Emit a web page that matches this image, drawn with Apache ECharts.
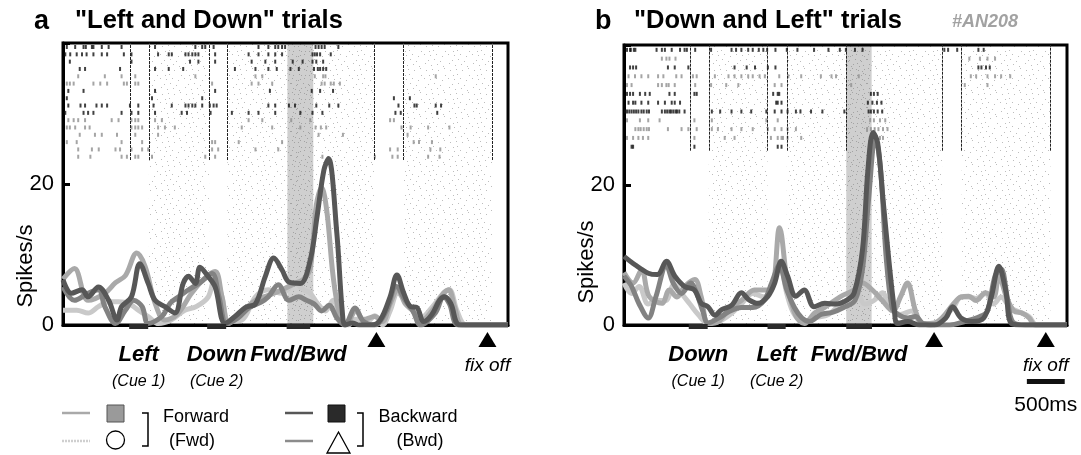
<!DOCTYPE html>
<html>
<head>
<meta charset="utf-8">
<script src="https://cdn.jsdelivr.net/npm/echarts@6/dist/echarts.min.js"></script>
<style>
html,body{margin:0;padding:0;background:#fff;}
#chart{width:1081px;height:455px;}
</style>
</head>
<body>
<div id="chart"></div>
<script>
// time in ms from the left edge of each panel, rate in spikes/s
var timeMax = 5850;
var rateMax = 40;

// ---- panel a : "Left and Down" trials ----
var fwdSqA = [[0,6.5],[150,8],[330,3.5],[550,4.5],[690,6],[820,7],[970,10.2],[1080,8.3],[1210,3.1],[1340,0.7],[1500,1.5],[1690,4.5],[1850,6.5],[2000,7.6],[2090,4],[2180,0.2],[2350,1.8],[2530,3.5],[2700,4.2],[2880,5],[3050,5.9],[3160,6.5],[3250,8],[3330,17],[3400,19.5],[3470,16],[3550,7],[3640,1.2],[3720,0],[3850,2],[3950,0.8],[4100,1.2],[4200,0.5],[4300,3],[4400,5],[4500,3],[4600,2],[4700,0.5],[4850,2],[5000,4.5],[5070,5],[5150,2.5],[5250,0],[5850,0]];
var fwdCircA = [[0,2.1],[180,2.1],[330,1.7],[465,2.6],[600,3.3],[730,3.3],[860,3.1],[990,2.1],[1120,1.2],[1255,0.2],[1420,0.7],[1600,2.1],[1750,2.6],[1910,4],[2000,6.9],[2090,4],[2180,0.5],[2350,0.7],[2530,4],[2700,5],[2880,4.5],[3050,5.9],[3160,5],[3250,4.5],[3350,3],[3450,2],[3550,3.5],[3650,1],[3750,0],[3850,0.8],[4000,0.5],[4100,1.3],[4200,0],[4300,2],[4400,4.5],[4500,3.5],[4600,2],[4700,1],[4850,2.5],[5000,4.5],[5080,5],[5180,2],[5300,0],[5850,0]];
var bwdSqA = [[0,6.4],[110,4.5],[250,5],[330,4],[465,5.4],[600,3.5],[710,0.7],[770,2.6],[900,4],[1010,8.7],[1120,5.9],[1210,3.5],[1340,2.6],[1470,1.7],[1580,5.9],[1650,6.9],[1740,5.9],[1800,8.2],[1900,7],[2000,5.4],[2130,0.2],[2260,1.2],[2400,2.5],[2530,3],[2660,6.9],[2770,9.5],[2880,7.8],[2970,6.1],[3120,5.9],[3250,9.2],[3340,15.4],[3430,22],[3490,23.6],[3600,13],[3670,2.1],[3710,0],[3800,0.3],[3900,0],[4050,0],[4170,0.7],[4300,4],[4390,7.1],[4480,4.5],[4570,2.6],[4650,2.5],[4740,0.5],[4850,1.5],[4950,3.5],[5020,4],[5100,3],[5220,0],[5850,0]];
var bwdTriA = [[0,5.4],[150,3.5],[330,4.5],[465,5],[550,2.6],[690,0.2],[820,2.1],[930,3.5],[1040,2.6],[1120,0.2],[1300,1.2],[1410,3.1],[1520,4],[1650,5],[1800,6],[1960,7.3],[2050,4],[2150,0.2],[2300,1],[2450,2.5],[2600,3.2],[2700,4],[2830,5.7],[2970,3.5],[3100,4],[3200,3.5],[3300,3],[3400,2],[3500,2.8],[3600,1],[3700,0],[3840,2.4],[3950,0.5],[4100,0],[4250,2],[4380,5.5],[4500,3.5],[4600,2],[4700,0],[4900,1.8],[5000,4],[5080,3],[5200,0],[5850,0]];

// raster rows, top to bottom: condition + spike times
var rowsA = [
	['bwd',[50,160,270,300,380,400,510,600,770,1210,1740,1830,1870,1980,2570,2700,2790,2830,2880,2920,3320,3360,3400,3440,3620]],
	['bwd',[30,95,180,250,310,400,510,580,800,900,1250,1390,1430,1610,1650,1700,1740,1780,2000,2440,2570,2700,2790,2880,3280,3310,3340,3380,3520]],
	['bwd',[90,900,1670,1780,2000,2480,2660,2790,3020,3150,3280,3330,3420]],
	['bwd',[220,290,750,1210,1390,1580,2260,2530,2700,2810,2990,3100,3300,3350,3380,3420,3460]],
	['fwd',[200,550,770,950,1740,2530,2620,3310,3420,3450,4900]],
	['fwd',[50,90,140,400,490,580,800,840,950,990,1960,2480,2570,2750,3400,3440,3520,3560,3640]],
	['bwd',[70,270,1210,2000,2720,3270,3380,3550]],
	['bwd',[50,1170,1830,4350,4560]],
	['bwd',[70,230,290,440,510,580,880,990,1190,1430,1610,1650,1700,1740,1830,1930,1980,2020,2700,2790,2970,3050,3330,3500,3620,4410,4620,4650,4900,4970]],
	['bwd',[30,270,330,400,770,900,990,1210,1560,1630,1940,2220,2440,2570,2790,3120,3280,3410,4370,4440,4920]],
	['fwd',[70,140,200,290,640,730,900,950,990,1210,1300,2440,2620,3000,3250,4300,4350]],
	['fwd',[50,90,160,290,350,900,950,990,1040,1250,1340,1470,2350,2750,3120,3320,3390,3460,4450,4570,4800,5080]],
	['fwd',[220,420,510,710,950,1250,3360,3680,4530]],
	['fwd',[50,180,770,1040,1960,2000,2310,2880,4610,4680,4850]],
	['fwd',[200,380,470,690,750,900,1040,1120,1960,2040,2530,2830,4300,4400,4830,4960]],
	['fwd',[200,360,770,840,950,990,1170,1870,2000,3410,4100,4330,4400,4800,4950]]
];
var rasterBottomA = 23.4;
var rasterLinesA = [880,1130,1920,2160,4090,4470,5640];
var stippleA = [[1130,1920],[2160,2950],[3290,4090],[4470,5640]];
var bandA = [2950,3290];
var cuesA = [[870,1120],[1895,2145],[2940,3250]];
var cueNamesA = ['Left','Down','Fwd/Bwd'];
var cueSubsA = ['(Cue 1)','(Cue 2)',''];
var eventsA = [4120,5580];
var eventNamesA = ['','fix off'];

// ---- panel b : "Down and Left" trials ----
var fwdSqB = [[0,7.5],[120,6],[233,7.9],[330,4.1],[500,3.1],[600,5],[700,4],[800,5.5],[935,6.5],[1020,4],[1110,0.2],[1250,0.5],[1400,2.5],[1550,3.5],[1720,5],[1810,5],[1940,5],[2053,13.9],[2163,5.5],[2273,1.2],[2383,0.2],[2514,1.7],[2650,2.5],[2865,4.1],[3040,5],[3150,6],[3280,5],[3410,3.5],[3550,2],[3650,4],[3742,6],[3850,2],[3940,0.2],[4100,0.3],[4200,1],[4350,3],[4450,4],[4553,4.1],[4650,3.5],[4773,4.6],[4880,4],[4950,7],[5050,4],[5150,2],[5255,1.7],[5350,1],[5430,0],[5850,0]];
var fwdCircB = [[0,6],[100,4.5],[200,5.5],[320,3],[430,3.5],[550,3.5],[660,5.8],[760,4.5],[870,3],[980,1.5],[1100,0.3],[1250,0.5],[1400,1.5],[1550,3],[1700,4.5],[1850,4],[1950,5.5],[2053,9],[2150,4.5],[2250,1.5],[2380,0.5],[2520,1],[2700,1.5],[2860,3],[3000,4],[3060,5],[3180,3],[3300,3.5],[3413,4.6],[3500,2.6],[3650,1.5],[3800,2],[3900,0.5],[4050,0],[4200,1],[4350,2.5],[4450,4],[4553,4],[4650,3.8],[4773,4.5],[4880,3],[4980,4],[5100,2.5],[5255,1.7],[5350,1.2],[5450,0],[5850,0]];
var bwdSqB = [[0,9.8],[145,8.6],[320,7.4],[440,7.2],[560,9.1],[670,7],[800,5.5],[930,5],[1020,3.1],[1110,2.6],[1200,1.4],[1290,2.2],[1420,2.8],[1550,4.6],[1650,3.6],[1770,3.1],[1900,4.1],[1990,6],[2076,9.1],[2160,7],[2270,4.1],[2380,5],[2510,2.6],[2650,3.1],[2800,3],[2950,3.6],[3040,4.6],[3150,10.8],[3220,22],[3290,27.5],[3350,26],[3420,18],[3500,9],[3570,2.2],[3610,0.2],[3750,0.5],[3900,0],[4100,0],[4250,1],[4340,2.6],[4450,1],[4600,0.5],[4750,1],[4850,4],[4950,8.4],[5040,5],[5120,0.2],[5300,0],[5850,0]];
var bwdTriB = [[0,7],[100,5.5],[200,3],[320,1],[420,4],[560,8.5],[650,6],[760,4.5],[880,6],[960,4.5],[1040,2],[1110,0.3],[1250,1],[1400,2],[1550,2.5],[1700,2.5],[1850,3.5],[1950,6],[2050,8.5],[2150,5],[2250,2.5],[2350,1],[2450,0.5],[2600,1.5],[2750,1.8],[2900,2.5],[3050,3.5],[3150,8],[3230,18],[3320,27],[3390,22],[3460,10],[3540,2.5],[3620,1.5],[3750,1],[3850,1.2],[3950,0.2],[4100,0],[4300,0],[4500,0.5],[4700,1.2],[4800,2],[4900,7],[4980,8],[5060,4],[5130,0.5],[5300,0],[5850,0]];

var rowsB = [
	['bwd',[40,80,90,130,150,430,500,540,630,740,800,830,940,1150,1420,1480,1550,1640,1700,1780,1840,1890,2000,2150,2290,2510,2700,2850,2930,3050,3150,4230,4280,4400,4680,4750]],
	['fwd',[500,560,600,680,4560,4700,4800,4900]],
	['bwd',[80,120,160,580,670,850,1460,1620,1730,1900,2000,4680,4720,4780,4830]],
	['fwd',[60,145,230,320,450,520,690,760,910,960,1200,1380,1460,1550,1640,1700,1790,1860,2050,2170,2340,2600,2740,2800,3100,4580,4650,4800,4900,4980,5100]],
	['fwd',[40,100,450,500,560,590,670,940,1150,1350,1510,1990,2080,3000,4500,4800]],
	['bwd',[40,80,120,210,280,340,600,670,930,960,1970,2030,2050,3260,3300,3350]],
	['bwd',[60,120,150,230,320,450,540,630,670,740,2010,2030,2080,3220,3280,3340,3400]],
	['bwd',[15,40,70,100,130,160,190,230,260,300,330,500,540,570,600,620,650,680,700,730,800,1160,1270,1420,1550,1680,1880,1990,2080,2160,2270,2330,2470,2620,2910,3230,3260,3300,3350,3410]],
	['fwd',[40,210,320,470,930,1160,1880,2030,3250,3300,3380,3450]],
	['fwd',[150,190,220,260,300,330,580,760,850,960,1160,1240,1420,1550,1700,1900,1990,2080,2160,2270,3210,3260,3310,3360,3420,3480]],
	['fwd',[40,120,190,250,320,930,1330,1460,1940,2030,2080,2100,2160,2340,3330,3380,3420]],
	['bwd',[100,120,930,2030,2080]]
];
var rasterBottomB = 24.9;
var rasterLinesB = [880,1120,1895,2150,2935,4200,4460,5630];
var stippleB = [[1120,1895],[2150,2935],[3270,4200],[4460,5630]];
var bandB = [2935,3270];
var cuesB = [[855,1105],[1895,2135],[2935,3275]];
var cueNamesB = ['Down','Left','Fwd/Bwd'];
var cueSubsB = ['(Cue 1)','(Cue 2)',''];
var eventsB = [4095,5570];
var eventNamesB = ['','fix off'];
var scaleBarB = [5320,5820];

var FONT = '"Liberation Sans", Arial, Helvetica, sans-serif';

// stipple textures for the shaded periods
var dotList = [[1,2],[13,3],[4,6],[16,6],[10,8],[22,7],[8,13],[20,12],[2,11],[5,16],[17,15],[11,18],[23,17],[0,21],[12,20],[18,22],[6,22],[21,3]];
function makePattern(bg, dotColor, extra){
	var c = document.createElement('canvas');
	c.width = 24; c.height = 24;
	var g = c.getContext('2d');
	if(bg){ g.fillStyle = bg; g.fillRect(0, 0, 24, 24); }
	g.fillStyle = dotColor;
	for(var i = 0; i < dotList.length; i++){
		g.fillRect(dotList[i][0], dotList[i][1], 1, 1);
		if(extra){ g.fillRect((dotList[i][0] + 11) % 24, (dotList[i][1] + 5) % 24, 1, 1); }
	}
	return c;
}
var lightStipple = {image: makePattern(null, '#bdbdbd', false), repeat: 'repeat'};
var darkStipple = {image: makePattern('#cfcfcf', '#a3a3a3', true), repeat: 'repeat'};

var colFwdSq = '#a9a9a9', colFwdCirc = '#c9c9c9', colBwdSq = '#575757', colBwdTri = '#828282';

function psth(gi, data, color){
	return {
		type: 'line', xAxisIndex: gi, yAxisIndex: gi, data: data,
		smooth: 0.35, showSymbol: false, silent: true, z: 4,
		lineStyle: {color: color, width: 5}
	};
}

function rasterSeries(gi, rows, cond, bottom, color){
	var data = [];
	var step = (rateMax - bottom) / rows.length;
	for(var i = 0; i < rows.length; i++){
		if(rows[i][0] != cond) continue;
		var y = rateMax - (i + 0.55) * step;
		for(var j = 0; j < rows[i][1].length; j++){
			data.push([rows[i][1][j], y]);
		}
	}
	return {
		type: 'scatter', xAxisIndex: gi, yAxisIndex: gi, data: data,
		symbol: 'rect', symbolSize: [2, 4], silent: true, z: 3,
		itemStyle: {color: color}
	};
}

// shaded periods + trial event lines in the raster
function backdrop(gi, stipple, band, lines, bottom){
	var areas = [];
	for(var i = 0; i < stipple.length; i++){
		areas.push([{xAxis: stipple[i][0], itemStyle: {color: lightStipple, opacity: 1}}, {xAxis: stipple[i][1]}]);
	}
	areas.push([{xAxis: band[0], itemStyle: {color: darkStipple, opacity: 1}}, {xAxis: band[1]}]);
	var mlines = [];
	for(var k = 0; k < lines.length; k++){
		mlines.push([{coord: [lines[k], bottom]}, {coord: [lines[k], rateMax]}]);
	}
	return {
		type: 'line', xAxisIndex: gi, yAxisIndex: gi, data: [[0, 0]],
		showSymbol: false, silent: true, z: 1, lineStyle: {opacity: 0},
		markArea: {silent: true, data: areas},
		markLine: {silent: true, symbol: ['none', 'none'], label: {show: false},
			lineStyle: {color: '#222', width: 1, type: [3, 1]}, data: mlines}
	};
}

// cue bars and labels under the time axis
function cueSeries(gi, cues, names, subs){
	var data = [];
	for(var i = 0; i < cues.length; i++) data.push([cues[i][0], cues[i][1], i]);
	return {
		type: 'custom', xAxisIndex: gi, yAxisIndex: gi, data: data, clip: false, silent: true, z: 6,
		renderItem: function(params, api){
			var i = api.value(2);
			var p0 = api.coord([api.value(0), 0]);
			var p1 = api.coord([api.value(1), 0]);
			var cx = (p0[0] + p1[0]) / 2, y0 = p0[1];
			return {type: 'group', children: [
				{type: 'rect', shape: {x: p0[0], y: y0 - 1, width: p1[0] - p0[0], height: 5}, style: {fill: '#2b2b2b'}},
				{type: 'text', style: {text: names[i], x: cx, y: y0 + 30, align: 'center', verticalAlign: 'middle',
					fontFamily: FONT, fontSize: 22, fontWeight: 'bold', fontStyle: 'italic', fill: '#000'}},
				{type: 'text', style: {text: subs[i], x: cx, y: y0 + 57, align: 'center', verticalAlign: 'middle',
					fontFamily: FONT, fontSize: 16, fontStyle: 'italic', fill: '#000'}}
			]};
		}
	};
}

function eventSeries(gi, events, names){
	var data = [];
	for(var i = 0; i < events.length; i++) data.push([events[i], i]);
	return {
		type: 'custom', xAxisIndex: gi, yAxisIndex: gi, data: data, clip: false, silent: true, z: 6,
		renderItem: function(params, api){
			var i = api.value(1);
			var p = api.coord([api.value(0), 0]);
			var x = p[0], y0 = p[1];
			return {type: 'group', children: [
				{type: 'polygon', shape: {points: [[x - 9, y0 + 22], [x + 9, y0 + 22], [x, y0 + 7]]}, style: {fill: '#000'}},
				{type: 'text', style: {text: names[i], x: x, y: y0 + 41, align: 'center', verticalAlign: 'middle',
					fontFamily: FONT, fontSize: 19, fontStyle: 'italic', fill: '#000'}}
			]};
		}
	};
}

function scaleSeries(gi, bar){
	return {
		type: 'custom', xAxisIndex: gi, yAxisIndex: gi, data: [[bar[0], bar[1]]], clip: false, silent: true, z: 6,
		renderItem: function(params, api){
			var p0 = api.coord([api.value(0), 0]);
			var p1 = api.coord([api.value(1), 0]);
			return {type: 'group', children: [
				{type: 'rect', shape: {x: p0[0], y: p0[1] + 54, width: p1[0] - p0[0], height: 5}, style: {fill: '#111'}},
				{type: 'text', style: {text: (api.value(1) - api.value(0)) + 'ms', x: (p0[0] + p1[0]) / 2, y: p0[1] + 80,
					align: 'center', verticalAlign: 'middle', fontFamily: FONT, fontSize: 21, fill: '#000'}}
			]};
		}
	};
}

function xAx(gi){
	return {
		type: 'value', gridIndex: gi, min: 0, max: timeMax, z: 2,
		axisLine: {show: true, onZero: false, lineStyle: {color: '#000', width: 3}},
		axisTick: {show: false}, axisLabel: {show: false}, splitLine: {show: false}
	};
}
function yAx(gi){
	return {
		type: 'value', gridIndex: gi, min: 0, max: rateMax, interval: 20, z: 2,
		axisLine: {show: true, lineStyle: {color: '#000', width: 3}},
		axisTick: {show: true, inside: true, length: 7, lineStyle: {color: '#000', width: 3}},
		axisLabel: {fontFamily: FONT, fontSize: 22, color: '#000', margin: 9,
			formatter: function(v){ return v == rateMax ? '' : v; }},
		splitLine: {show: false}
	};
}

function txt(x, y, s, size, extra){
	var st = {text: s, x: x, y: y, fontFamily: FONT, fontSize: size, fill: '#000', verticalAlign: 'middle', align: 'left'};
	for(var k in extra) st[k] = extra[k];
	return {type: 'text', style: st, z: 10};
}

// legend at the bottom left
var legendGraphics = [
	{type: 'line', shape: {x1: 62, y1: 413, x2: 90, y2: 413}, style: {stroke: colFwdSq, lineWidth: 2.5}},
	{type: 'line', shape: {x1: 62, y1: 441, x2: 90, y2: 441}, style: {stroke: '#cfcfcf', lineWidth: 2.5, lineDash: [2, 1]}},
	{type: 'rect', shape: {x: 107, y: 405, width: 17, height: 17}, style: {fill: '#9a9a9a', stroke: '#555', lineWidth: 1}},
	{type: 'circle', shape: {cx: 115.5, cy: 440, r: 9}, style: {fill: 'none', stroke: '#000', lineWidth: 1.3}},
	{type: 'polyline', shape: {points: [[142, 413], [148, 413], [148, 446], [142, 446]]}, style: {stroke: '#000', lineWidth: 1.5, fill: 'none'}},
	{type: 'line', shape: {x1: 285, y1: 413, x2: 313, y2: 413}, style: {stroke: colBwdSq, lineWidth: 2.5}},
	{type: 'line', shape: {x1: 285, y1: 441, x2: 313, y2: 441}, style: {stroke: '#8c8c8c', lineWidth: 2.5}},
	{type: 'rect', shape: {x: 328, y: 405, width: 17, height: 17}, style: {fill: '#2a2a2a', stroke: '#111', lineWidth: 1}},
	{type: 'polygon', shape: {points: [[327, 453], [350, 453], [338.5, 432]]}, style: {fill: 'none', stroke: '#000', lineWidth: 1.3}},
	{type: 'polyline', shape: {points: [[357, 413], [363, 413], [363, 446], [357, 446]]}, style: {stroke: '#000', lineWidth: 1.5, fill: 'none'}},
	txt(196, 417, 'Forward', 18, {align: 'center'}),
	txt(192, 441, '(Fwd)', 18, {align: 'center'}),
	txt(418, 417, 'Backward', 18, {align: 'center'}),
	txt(420, 441, '(Bwd)', 18, {align: 'center'})
];

var titleGraphics = [
	txt(34, 22, 'a', 27, {fontWeight: 'bold'}),
	txt(75, 21, '"Left and Down" trials', 25.5, {fontWeight: 'bold'}),
	txt(595, 22, 'b', 27, {fontWeight: 'bold'}),
	txt(634, 21, '"Down and Left" trials', 25.5, {fontWeight: 'bold'}),
	txt(952, 22, '#AN208', 18, {fontWeight: 'bold', fontStyle: 'italic', fill: '#a2a2a2'}),
	{type: 'text', x: 26, y: 266, rotation: Math.PI / 2, z: 10,
		style: {text: 'Spikes/s', fontFamily: FONT, fontSize: 22, fill: '#000', align: 'center', verticalAlign: 'middle'}},
	{type: 'text', x: 587, y: 262, rotation: Math.PI / 2, z: 10,
		style: {text: 'Spikes/s', fontFamily: FONT, fontSize: 22, fill: '#000', align: 'center', verticalAlign: 'middle'}}
];

var chart = echarts.init(document.getElementById('chart'), null, {renderer: 'canvas'});
var option = {
	animation: false,
	backgroundColor: '#fff',
	grid: [
		{left: 63, top: 43, width: 445, height: 282, show: true, borderColor: '#000', borderWidth: 3, z: 2},
		{left: 624, top: 45, width: 443, height: 280, show: true, borderColor: '#000', borderWidth: 3, z: 2}
	],
	xAxis: [xAx(0), xAx(1)],
	yAxis: [yAx(0), yAx(1)],
	graphic: {elements: titleGraphics.concat(legendGraphics)},
	series: [
		backdrop(0, stippleA, bandA, rasterLinesA, rasterBottomA),
		rasterSeries(0, rowsA, 'fwd', rasterBottomA, '#8f8f8f'),
		rasterSeries(0, rowsA, 'bwd', rasterBottomA, '#111'),
		psth(0, fwdCircA, colFwdCirc),
		psth(0, fwdSqA, colFwdSq),
		psth(0, bwdTriA, colBwdTri),
		psth(0, bwdSqA, colBwdSq),
		cueSeries(0, cuesA, cueNamesA, cueSubsA),
		eventSeries(0, eventsA, eventNamesA),

		backdrop(1, stippleB, bandB, rasterLinesB, rasterBottomB),
		rasterSeries(1, rowsB, 'fwd', rasterBottomB, '#8f8f8f'),
		rasterSeries(1, rowsB, 'bwd', rasterBottomB, '#111'),
		psth(1, fwdCircB, colFwdCirc),
		psth(1, fwdSqB, colFwdSq),
		psth(1, bwdTriB, colBwdTri),
		psth(1, bwdSqB, colBwdSq),
		cueSeries(1, cuesB, cueNamesB, cueSubsB),
		eventSeries(1, eventsB, eventNamesB),
		scaleSeries(1, scaleBarB)
	]
};
chart.setOption(option);
</script>
</body>
</html>
